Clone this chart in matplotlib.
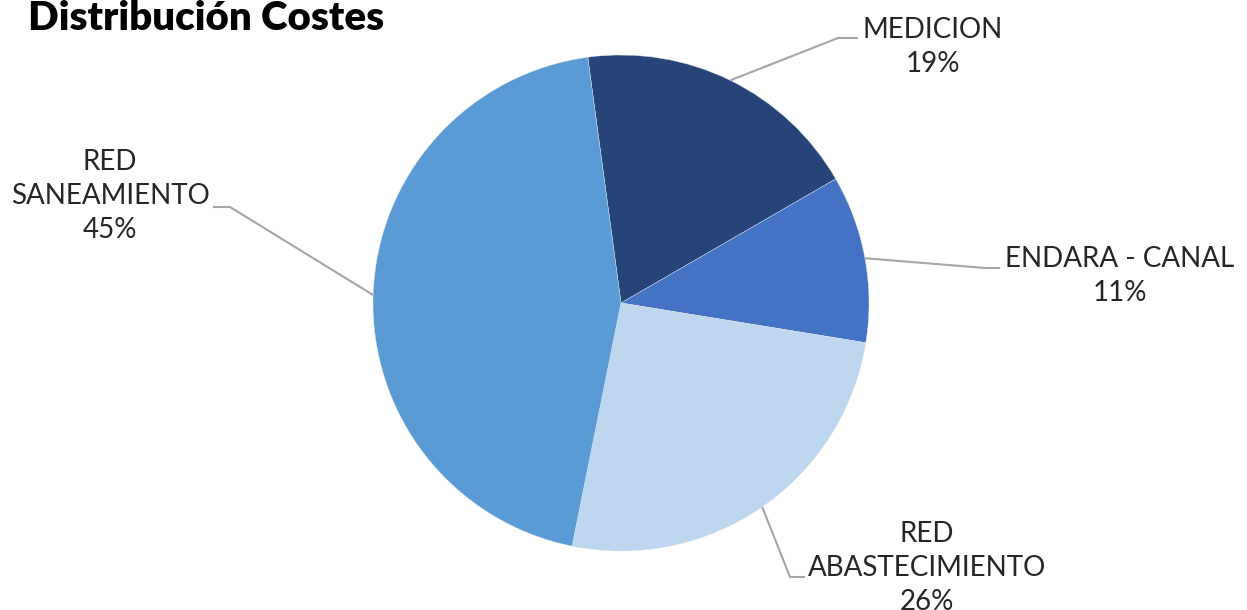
import numpy as np
import matplotlib
matplotlib.use("Agg")
import matplotlib.pyplot as plt

# cost shares per item (percent)
categories = ["MEDICION", "ENDARA - CANAL", "RED\nABASTECIMIENTO", "RED\nSANEAMIENTO"]
values = [18.8, 10.9, 25.6, 44.7]
colors = ["#264478", "#4472C4", "#BDD7EE", "#5B9BD5"]

W, H = 1247, 610
fig = plt.figure(figsize=(W / 100, H / 100), dpi=100)
ax = fig.add_axes([0, 0, 1, 1])

cx, cy, r = 621, H - 303, 248
start = 97.7
wedges, _ = ax.pie(values, colors=colors, startangle=start, counterclock=False,
                   center=(cx, cy), radius=r,
                   wedgeprops=dict(linewidth=0.3, edgecolor="#dde6f0"))
ax.set_xlim(0, W)
ax.set_ylim(0, H)
ax.set_aspect("equal")
ax.axis("off")

# elbow of each leader line and label centre, in pixels from top-left
elbows = [((838, 38), (858, 38)), ((985, 268), (1000, 268)),
          ((790, 577), (805, 577)), ((230, 207), (213, 207))]
label_pos = [(933, 47), (1120, 276), (927, 568), (110, 196)]

total = sum(values)
font = dict(family="Lato", weight="normal", fontsize=20, color="#262626")
for w, v, name, (e1, e2), (lx, ly) in zip(wedges, values, categories, elbows, label_pos):
    mid = np.deg2rad((w.theta1 + w.theta2) / 2)
    x0, y0 = cx + r * np.cos(mid), cy + r * np.sin(mid)
    ax.plot([x0, e1[0], e2[0]], [y0, H - e1[1], H - e2[1]],
            color="#A6A6A6", lw=1.5, solid_capstyle="butt")
    ax.text(lx, H - ly, f"{name}\n{round(v / total * 100)}%",
            ha="center", va="center", linespacing=1.4, **font)

fig.text(28 / W, 1 - 19 / H, "Distribución Costes", family="Lato", weight="heavy",
         fontsize=29, ha="left", va="center", color="black")

fig.savefig("out.png", dpi=100, facecolor="white")
